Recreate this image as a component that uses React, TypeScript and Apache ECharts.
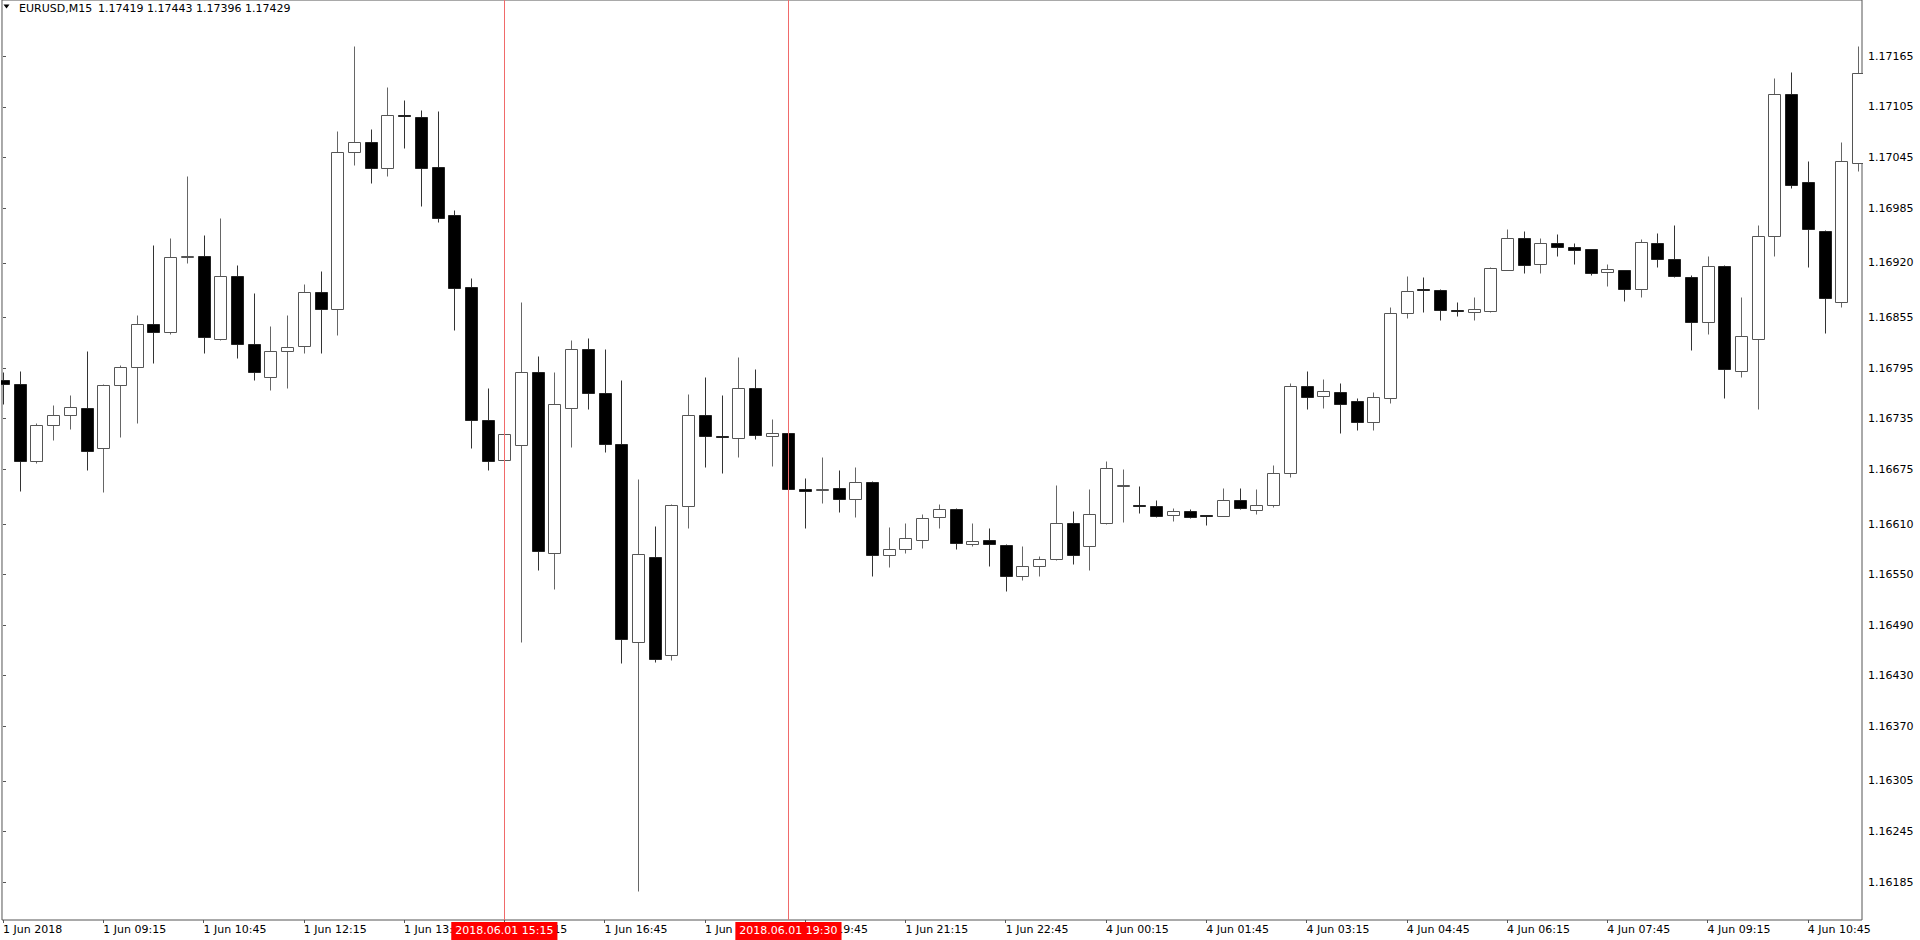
import React, { useEffect, useRef } from "react";
import * as echarts from "echarts";

// ---- Data (EURUSD M15) ----
const opens = [
  1.16781, 1.16776, 1.16685, 1.16727, 1.1674, 1.16748, 1.167, 1.16775, 1.16796, 1.16847,
  1.16838, 1.16927, 1.16928, 1.1683, 1.16904, 1.16824, 1.16785, 1.16815, 1.16821, 1.16885,
  1.16865, 1.17051, 1.17064, 1.17032, 1.17096, 1.17093, 1.17034, 1.16977, 1.16891, 1.16733,
  1.16686, 1.16704, 1.1679, 1.16576, 1.16748, 1.16818, 1.16765, 1.16705, 1.1647, 1.16571,
  1.16454, 1.16631, 1.1674, 1.16715, 1.16712, 1.16772, 1.16715, 1.16718, 1.16651, 1.1665,
  1.16653, 1.1664, 1.1666, 1.16573, 1.1658, 1.16591, 1.16618, 1.16628, 1.16586, 1.16591,
  1.16585, 1.16548, 1.1656, 1.16568, 1.16611, 1.16584, 1.16611, 1.16655, 1.16632, 1.16631,
  1.16621, 1.16626, 1.16621, 1.1662, 1.16638, 1.16627, 1.16632, 1.1667, 1.16774, 1.16762,
  1.16767, 1.16756, 1.16731, 1.16759, 1.16861, 1.16889, 1.16888, 1.16864, 1.16862, 1.16863,
  1.16912, 1.16949, 1.16919, 1.16944, 1.16939, 1.16936, 1.16909, 1.16911, 1.16889, 1.16944,
  1.16924, 1.16903, 1.1685, 1.16916, 1.16792, 1.1683, 1.16952, 1.17121, 1.17016, 1.16958,
  1.16873, 1.17039,
];
const highs = [
  1.16791, 1.16792, 1.1673, 1.16751, 1.16763, 1.16815, 1.16776, 1.16799, 1.16858, 1.16941,
  1.1695, 1.17023, 1.16953, 1.16973, 1.16917, 1.16884, 1.16845, 1.16858, 1.16895, 1.1691,
  1.17076, 1.17177, 1.17079, 1.17129, 1.17113, 1.17101, 1.171, 1.16983, 1.16902, 1.16772,
  1.16719, 1.16873, 1.1681, 1.16791, 1.16828, 1.16831, 1.16818, 1.16781, 1.16664, 1.16608,
  1.16634, 1.16764, 1.16784, 1.16763, 1.16808, 1.16794, 1.16735, 1.16719, 1.16665, 1.16689,
  1.16674, 1.16678, 1.16661, 1.16606, 1.16611, 1.16622, 1.16634, 1.16629, 1.16611, 1.16605,
  1.16586, 1.16584, 1.16572, 1.16656, 1.16625, 1.16652, 1.16685, 1.16675, 1.16655, 1.16639,
  1.16629, 1.16628, 1.16621, 1.16653, 1.16653, 1.16652, 1.1668, 1.16777, 1.16792, 1.16782,
  1.16777, 1.16759, 1.16767, 1.16868, 1.16904, 1.16903, 1.16889, 1.16873, 1.1688, 1.16915,
  1.1696, 1.16958, 1.16949, 1.16954, 1.16943, 1.16937, 1.16919, 1.16912, 1.16948, 1.16956,
  1.16965, 1.16906, 1.16928, 1.16917, 1.16879, 1.16965, 1.1714, 1.17146, 1.17041, 1.16959,
  1.17063, 1.17177,
];
const lows = [
  1.16753, 1.16649, 1.16682, 1.1671, 1.16723, 1.16674, 1.16648, 1.16713, 1.1673, 1.16801,
  1.16836, 1.1692, 1.16813, 1.16829, 1.16807, 1.16781, 1.16769, 1.16771, 1.16813, 1.16813,
  1.16834, 1.17036, 1.17015, 1.17023, 1.17056, 1.16988, 1.16968, 1.1684, 1.167, 1.16674,
  1.16684, 1.1647, 1.16555, 1.16533, 1.16701, 1.16747, 1.16695, 1.16445, 1.16174, 1.16446,
  1.16449, 1.16605, 1.16678, 1.16671, 1.1669, 1.16711, 1.16679, 1.16651, 1.16605, 1.16635,
  1.16624, 1.16618, 1.16548, 1.16559, 1.16576, 1.16582, 1.16605, 1.1658, 1.16584, 1.1656,
  1.16531, 1.16544, 1.16548, 1.16567, 1.16563, 1.16555, 1.1661, 1.16612, 1.16623, 1.16618,
  1.16614, 1.16617, 1.16609, 1.16619, 1.16628, 1.16622, 1.1663, 1.16666, 1.16746, 1.16748,
  1.16718, 1.16722, 1.16722, 1.16754, 1.16854, 1.16862, 1.16852, 1.16857, 1.16852, 1.16862,
  1.16911, 1.16908, 1.16908, 1.16928, 1.16919, 1.16906, 1.16892, 1.16875, 1.1688, 1.16915,
  1.16903, 1.16817, 1.16836, 1.16759, 1.16785, 1.16747, 1.16928, 1.17009, 1.16915, 1.16837,
  1.16868, 1.17029,
];
const closes = [
  1.16776, 1.16685, 1.16727, 1.1674, 1.16749, 1.16697, 1.16775, 1.16796, 1.16847, 1.16838,
  1.16927, 1.16928, 1.16832, 1.16904, 1.16824, 1.1679, 1.16815, 1.1682, 1.16885, 1.16865,
  1.17051, 1.17064, 1.17032, 1.17096, 1.17094, 1.17032, 1.16973, 1.1689, 1.16734, 1.16685,
  1.16717, 1.1679, 1.16578, 1.16753, 1.16818, 1.16765, 1.16705, 1.16474, 1.16574, 1.1645,
  1.16632, 1.1674, 1.16715, 1.16713, 1.16772, 1.16716, 1.16718, 1.16652, 1.16649, 1.16651,
  1.1664, 1.1666, 1.16573, 1.1658, 1.16594, 1.16617, 1.16628, 1.16587, 1.1659, 1.16586,
  1.16548, 1.1656, 1.16568, 1.16611, 1.16573, 1.16622, 1.16676, 1.16656, 1.16631, 1.16619,
  1.16626, 1.16618, 1.16619, 1.16638, 1.16629, 1.16633, 1.1667, 1.16774, 1.16761, 1.16768,
  1.16752, 1.16731, 1.16761, 1.16861, 1.16887, 1.16888, 1.16864, 1.16863, 1.16865, 1.16914,
  1.16949, 1.16917, 1.16944, 1.16939, 1.16935, 1.16908, 1.16913, 1.16889, 1.16945, 1.16925,
  1.16904, 1.1685, 1.16916, 1.16794, 1.16833, 1.16952, 1.1712, 1.17013, 1.1696, 1.16878,
  1.17041, 1.17145,
];

// x-axis tick positions (bar index) and their labels
const xTickIndex = [0, 6, 12, 18, 24, 30, 36, 42, 48, 54, 60, 66, 72, 78, 84, 90, 96, 102, 108];
const xTickLabels = [
  "1 Jun 2018", "1 Jun 09:15", "1 Jun 10:45", "1 Jun 12:15", "1 Jun 13:45", "1 Jun 15:15",
  "1 Jun 16:45", "1 Jun 18:15", "1 Jun 19:45", "1 Jun 21:15", "1 Jun 22:45", "4 Jun 00:15",
  "4 Jun 01:45", "4 Jun 03:15", "4 Jun 04:45", "4 Jun 06:15", "4 Jun 07:45", "4 Jun 09:15",
  "4 Jun 10:45",
];
// y-axis price labels
const yTickLabels = [
  "1.17165", "1.17105", "1.17045", "1.16985", "1.16920", "1.16855", "1.16795", "1.16735",
  "1.16675", "1.16610", "1.16550", "1.16490", "1.16430", "1.16370", "1.16305", "1.16245",
  "1.16185",
];
// vertical line markers
const markerIndex = [30, 47];
const markerLabels = ["2018.06.01 15:15", "2018.06.01 19:30"];

const headerSymbol = "EURUSD,M15";
const headerPrices = "1.17419 1.17443 1.17396 1.17429";

const FONT = "DejaVu Sans";

export default function App() {
  const ref = useRef<HTMLDivElement>(null);

  useEffect(() => {
    const chart = echarts.init(ref.current!, null, { renderer: "svg" });
    const data = opens.map((o, i) => [i, o, closes[i], lows[i], highs[i]]);
    const yTicks = yTickLabels.map(Number);

    const renderItem = (params: any, api: any) => {
      const i = api.value(0);
      const o = api.value(1);
      const c = api.value(2);
      const l = api.value(3);
      const h = api.value(4);
      const pO = api.coord([i, o]);
      const pC = api.coord([i, c]);
      const pL = api.coord([i, l]);
      const pH = api.coord([i, h]);
      const bull = c >= o;
      const cx = Math.round(pO[0]) + 0.5;
      const half = 6;
      const top = Math.round(Math.min(pO[1], pC[1])) + 0.5;
      const bot = Math.round(Math.max(pO[1], pC[1])) + 0.5;
      return {
        type: "group",
        children: [
          {
            type: "line",
            shape: { x1: cx, y1: Math.round(pH[1]) + 0.5, x2: cx, y2: Math.round(pL[1]) + 0.5 },
            style: { stroke: bull ? "#666" : "#333", lineWidth: 1 },
          },
          {
            type: "rect",
            shape: { x: cx - half, y: top, width: half * 2, height: bot - top },
            style: { fill: bull ? "#fff" : "#000", stroke: bull ? "#555" : "#222", lineWidth: 1 },
          },
        ],
      };
    };

    chart.setOption({
      animation: false,
      backgroundColor: "#ffffff",
      textStyle: { fontFamily: FONT },
      grid: {
        left: 1,
        right: 58,
        top: 0,
        bottom: 20,
        show: true,
        borderColor: "#555",
        borderWidth: 1,
        backgroundColor: "transparent",
      },
      xAxis: {
        type: "value",
        min: -0.06,
        max: 111.24,
        splitLine: { show: false },
        axisLine: { show: false },
        axisTick: {
          show: true,
          customValues: xTickIndex,
          length: 3,
          lineStyle: { color: "#555", width: 1 },
        },
        axisLabel: {
          customValues: xTickIndex,
          formatter: (v: number) => {
            const k = xTickIndex.indexOf(Math.round(v));
            return k >= 0 ? xTickLabels[k] : "";
          },
          align: "left",
          margin: 4,
          color: "#000",
          fontSize: 11,
          fontFamily: FONT,
        },
      },
      yAxis: {
        type: "value",
        position: "right",
        min: 1.1614,
        max: 1.17232,
        splitLine: { show: false },
        axisLine: { show: false },
        axisTick: {
          show: true,
          customValues: yTicks,
          length: 3,
          lineStyle: { color: "#555", width: 1 },
        },
        axisLabel: {
          customValues: yTicks,
          formatter: (v: number) => v.toFixed(5),
          margin: 6,
          color: "#000",
          fontSize: 11,
          fontFamily: FONT,
        },
      },
      series: [
        {
          type: "custom",
          renderItem,
          data,
          clip: true,
          encode: { x: 0, y: [1, 2, 3, 4] },
          silent: true,
          z: 2,
        },
        {
          type: "line",
          data: [],
          silent: true,
          z: 5,
          markLine: {
            silent: true,
            symbol: ["none", "none"],
            animation: false,
            lineStyle: { color: "#f06a6a", width: 1, type: "solid", opacity: 1 },
            emphasis: { disabled: true },
            label: {
              show: true,
              position: "start",
              distance: 2,
              formatter: (p: any) => markerLabels[p.dataIndex],
              color: "#ffffff",
              backgroundColor: "#ff0000",
              padding: [3, 4, 4, 4],
              fontSize: 11,
              fontFamily: FONT,
            },
            data: markerIndex.map((v, k) => ({ xAxis: v, name: markerLabels[k] })),
          },
        },
      ],
      graphic: [
        {
          type: "polygon",
          shape: { points: [[3.5, 4.5], [9.5, 4.5], [6.5, 8.5]] },
          style: { fill: "#000" },
          silent: true,
        },
        {
          type: "text",
          x: 19,
          y: 8,
          style: { text: headerSymbol, fill: "#000", font: `11px "${FONT}"`, verticalAlign: "middle" },
          silent: true,
        },
        {
          type: "text",
          x: 98,
          y: 8,
          style: { text: headerPrices, fill: "#000", font: `11px "${FONT}"`, verticalAlign: "middle" },
          silent: true,
        },
      ],
    });

    return () => chart.dispose();
  }, []);

  return (
    <div
      ref={ref}
      style={{ position: "fixed", left: 0, top: 0, width: 1920, height: 940, background: "#fff" }}
    />
  );
}
